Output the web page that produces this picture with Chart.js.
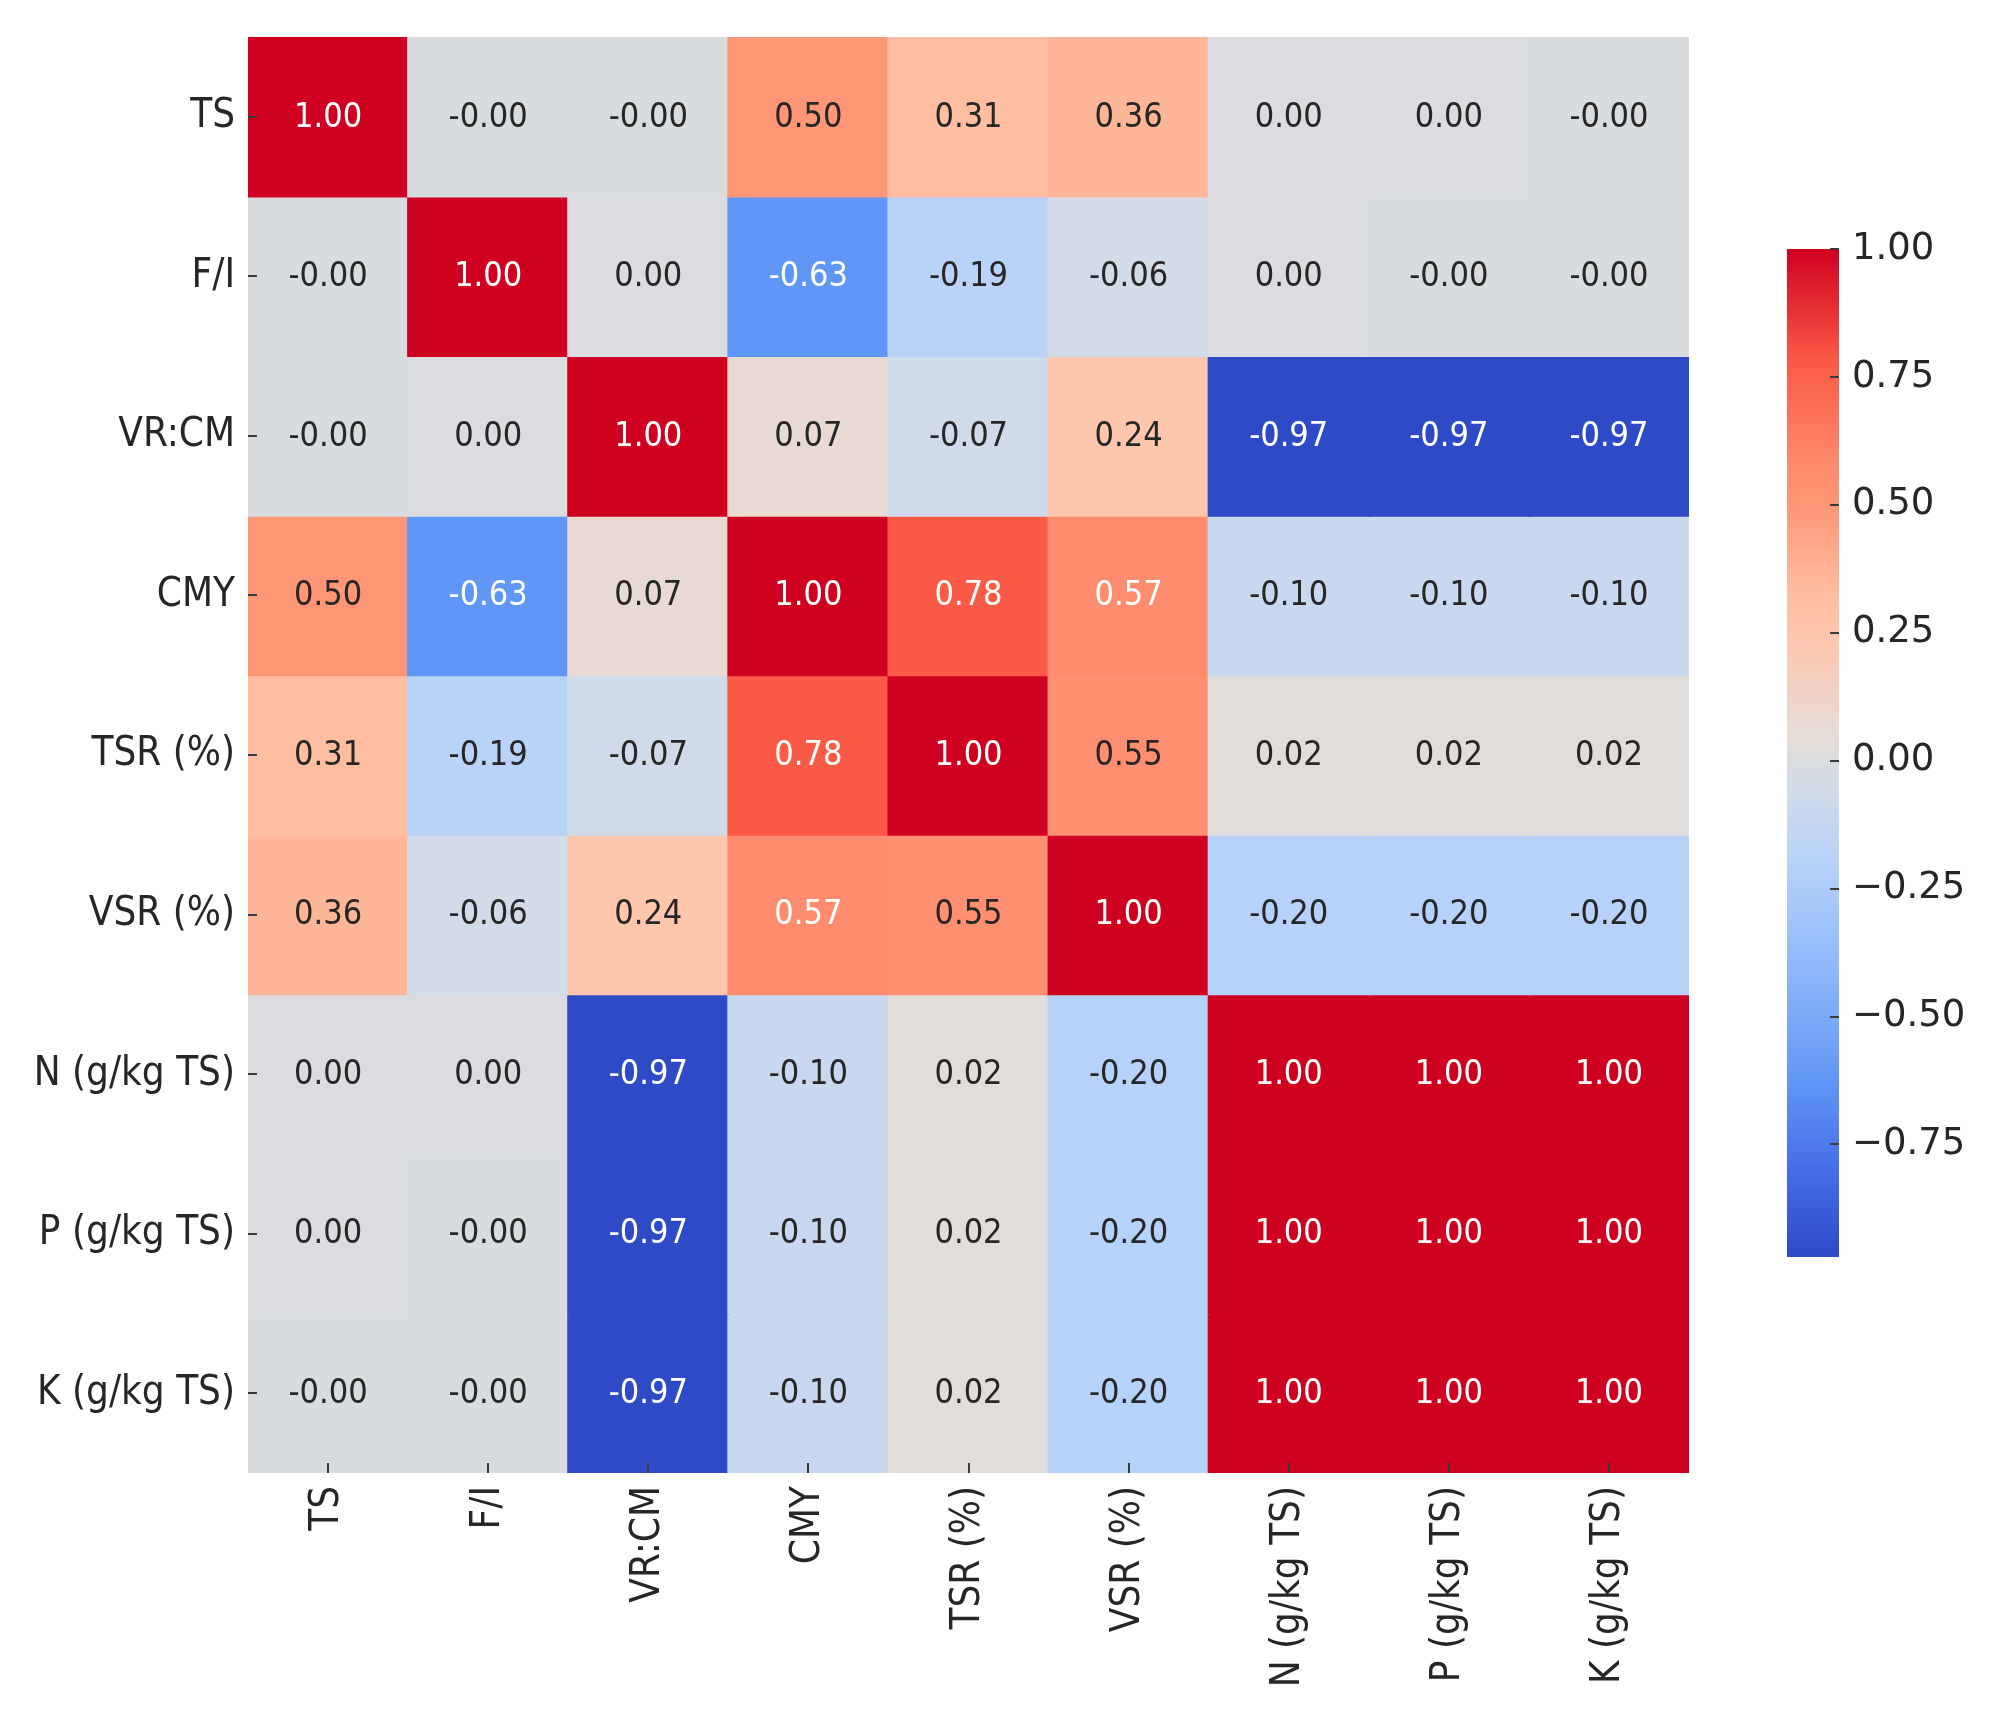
<!DOCTYPE html>
<html>
<head>
<meta charset="utf-8">
<script src="https://cdn.jsdelivr.net/npm/chart.js@4.4.1/dist/chart.umd.min.js"></script>
<style>
  html, body { margin: 0; padding: 0; background: #fff; }
  #wrap { position: relative; width: 1990px; height: 1724px; overflow: hidden; }
  #heat { position: absolute; left: 0; top: 0; }
  #cbar { position: absolute; left: 1751px; top: 200px; }
</style>
</head>
<body>
<div id="wrap">
  <canvas id="heat" width="1990" height="1724"></canvas>
  <canvas id="cbar" width="239" height="1110"></canvas>
</div>
<script>
// variables, same order on both axes
const labels = ['TS', 'F/I', 'VR:CM', 'CMY', 'TSR (%)', 'VSR (%)', 'N (g/kg TS)', 'P (g/kg TS)', 'K (g/kg TS)'];

// correlation rows (tiny +/- values print as 0.00 / -0.00)
const rowTS  = [1.00, -0.001, -0.001, 0.50, 0.31, 0.36, 0.001, 0.001, -0.001];
const rowFI  = [-0.001, 1.00, 0.001, -0.63, -0.19, -0.06, 0.001, -0.001, -0.001];
const rowVR  = [-0.001, 0.001, 1.00, 0.07, -0.07, 0.24, -0.97, -0.97, -0.97];
const rowCMY = [0.50, -0.63, 0.07, 1.00, 0.78, 0.57, -0.10, -0.10, -0.10];
const rowTSR = [0.31, -0.19, -0.07, 0.78, 1.00, 0.55, 0.02, 0.02, 0.02];
const rowVSR = [0.36, -0.06, 0.24, 0.57, 0.55, 1.00, -0.20, -0.20, -0.20];
const rowN   = [0.001, 0.001, -0.97, -0.10, 0.02, -0.20, 1.00, 1.00, 1.00];
const rowP   = [0.001, -0.001, -0.97, -0.10, 0.02, -0.20, 1.00, 1.00, 1.00];
const rowK   = [-0.001, -0.001, -0.97, -0.10, 0.02, -0.20, 1.00, 1.00, 1.00];
const rows = [rowTS, rowFI, rowVR, rowCMY, rowTSR, rowVSR, rowN, rowP, rowK];

// colorbar ticks
const cbarTicks = [-0.75, -0.5, -0.25, 0, 0.25, 0.5, 0.75, 1.0];

const vmin = Math.min(...rows.flat());
const vmax = Math.max(...rows.flat());

// coolwarm-like colormap (a bit punchier, like the picture)
const cmap = [
  [0.000, [46, 74, 198]],
  [0.090, [70, 112, 232]],
  [0.173, [96, 150, 245]],
  [0.280, [140, 182, 250]],
  [0.391, [183, 210, 248]],
  [0.442, [200, 216, 238]],
  [0.462, [210, 220, 232]],
  [0.492, [217, 220, 223]],
  [0.503, [225, 221, 218]],
  [0.528, [232, 218, 210]],
  [0.614, [255, 198, 174]],
  [0.650, [255, 190, 162]],
  [0.675, [255, 182, 152]],
  [0.746, [255, 150, 118]],
  [0.782, [255, 140, 110]],
  [0.888, [250, 90, 70]],
  [1.000, [208, 0, 32]]
];

function rgbAt(t) {
  t = Math.max(0, Math.min(1, t));
  for (let i = 1; i < cmap.length; i++) {
    if (t <= cmap[i][0]) {
      const [t0, c0] = cmap[i - 1];
      const [t1, c1] = cmap[i];
      const f = (t - t0) / (t1 - t0);
      return c0.map((a, k) => Math.round(a + (c1[k] - a) * f));
    }
  }
  return cmap[cmap.length - 1][1];
}
const norm = v => (v - vmin) / (vmax - vmin);
const colorOf = v => 'rgb(' + rgbAt(norm(v)).join(',') + ')';

// seaborn picks white or dark text from the cell luminance
function textColor(v) {
  const lin = rgbAt(norm(v)).map(c => {
    c /= 255;
    return c <= 0.03928 ? c / 12.92 : Math.pow((c + 0.055) / 1.055, 2.4);
  });
  const lum = 0.2126 * lin[0] + 0.7152 * lin[1] + 0.0722 * lin[2];
  return lum > 0.42 ? '#262626' : '#ffffff';
}

const FAMILY = '"DejaVu Sans Condensed", "DejaVu Sans", sans-serif';
const TICK_COLOR = '#3a3a3a';

const cellText = {
  id: 'cellText',
  afterDatasetsDraw(chart) {
    const ctx = chart.ctx;
    ctx.save();
    ctx.font = '34px ' + FAMILY;
    ctx.textAlign = 'center';
    ctx.textBaseline = 'middle';
    chart.data.datasets.forEach((ds, r) => {
      chart.getDatasetMeta(r).data.forEach((bar, c) => {
        const v = ds.data[c].v;
        ctx.fillStyle = textColor(v);
        ctx.fillText(v.toFixed(2), bar.x, (bar.y + bar.base) / 2 + 1);
      });
    });
    ctx.restore();
  }
};

// tick marks drawn just inside the heatmap edges
const heatTicks = {
  id: 'heatTicks',
  afterDraw(chart) {
    const { ctx, chartArea, scales } = chart;
    ctx.save();
    ctx.strokeStyle = TICK_COLOR;
    ctx.lineWidth = 2;
    ctx.beginPath();
    scales.x.ticks.forEach((t, i) => {
      const x = Math.round(scales.x.getPixelForTick(i));
      ctx.moveTo(x, chartArea.bottom);
      ctx.lineTo(x, chartArea.bottom - 10);
    });
    scales.y.ticks.forEach((t, i) => {
      const y = Math.round(scales.y.getPixelForTick(i));
      ctx.moveTo(chartArea.left, y);
      ctx.lineTo(chartArea.left + 9, y);
    });
    ctx.stroke();
    ctx.restore();
  }
};

new Chart(document.getElementById('heat'), {
  type: 'bar',
  data: {
    labels: labels,
    datasets: rows.map((row, r) => ({
      label: labels[r],
      data: row.map((v, c) => ({ x: labels[c], y: [r, r + 1], v: v })),
      backgroundColor: row.map(colorOf),
      borderWidth: 0,
      inflateAmount: 1,
      grouped: false,
      barPercentage: 1,
      categoryPercentage: 1
    }))
  },
  options: {
    responsive: false,
    animation: false,
    devicePixelRatio: 1,
    layout: { padding: { top: 33, right: 301, left: 0, bottom: 0 } },
    plugins: { legend: { display: false }, tooltip: { enabled: false } },
    scales: {
      x: {
        type: 'category',
        grid: { display: false, drawTicks: false },
        border: { display: false },
        afterFit: s => { s.height = 251; },
        ticks: {
          maxRotation: 90,
          minRotation: 90,
          autoSkip: false,
          padding: 13,
          color: '#262626',
          font: { family: FAMILY, size: 40 }
        }
      },
      y: {
        type: 'linear',
        min: 0,
        max: labels.length,
        reverse: true,
        grid: { display: false, drawTicks: false },
        border: { display: false },
        afterFit: s => { s.width = 248; },
        afterBuildTicks: s => { s.ticks = labels.map((_, i) => ({ value: i + 0.5 })); },
        ticks: {
          autoSkip: false,
          padding: 13,
          color: '#262626',
          font: { family: FAMILY, size: 40 },
          callback: v => labels[Math.floor(v)]
        }
      }
    }
  },
  plugins: [cellText, heatTicks]
});

// colorbar: one floating bar filled with the colormap
const cbarTicksPlugin = {
  id: 'cbarTicks',
  afterDraw(chart) {
    const { ctx, chartArea, scales } = chart;
    ctx.save();
    ctx.strokeStyle = TICK_COLOR;
    ctx.lineWidth = 2;
    ctx.beginPath();
    scales.y.ticks.forEach((t, i) => {
      const y = Math.round(scales.y.getPixelForTick(i));
      ctx.moveTo(chartArea.right, y);
      ctx.lineTo(chartArea.right - 9, y);
    });
    ctx.stroke();
    ctx.restore();
  }
};

new Chart(document.getElementById('cbar'), {
  type: 'bar',
  data: {
    labels: ['cbar'],
    datasets: [{
      data: [[vmin, vmax]],
      borderWidth: 0,
      barPercentage: 1,
      categoryPercentage: 1,
      backgroundColor: ctx => {
        const chart = ctx.chart;
        if (!chart.chartArea) return 'rgb(217,220,223)';
        const y = chart.scales.y;
        const g = chart.ctx.createLinearGradient(0, y.getPixelForValue(vmin), 0, y.getPixelForValue(vmax));
        cmap.forEach(([t, c]) => g.addColorStop(t, 'rgb(' + c.join(',') + ')'));
        return g;
      }
    }]
  },
  options: {
    responsive: false,
    animation: false,
    devicePixelRatio: 1,
    layout: { padding: { top: 49, left: 36, right: 0, bottom: 53 } },
    plugins: { legend: { display: false }, tooltip: { enabled: false } },
    scales: {
      x: { display: false },
      y: {
        position: 'right',
        min: vmin,
        max: vmax,
        grid: { display: false, drawTicks: false },
        border: { display: false },
        afterFit: s => { s.width = 151; },
        afterBuildTicks: s => { s.ticks = cbarTicks.map(v => ({ value: v })); },
        ticks: {
          padding: 13,
          color: '#262626',
          font: { family: '"DejaVu Sans", sans-serif', size: 37 },
          callback: v => (v < 0 ? '\u2212' : '') + Math.abs(v).toFixed(2)
        }
      }
    }
  },
  plugins: [cbarTicksPlugin]
});
</script>
</body>
</html>
